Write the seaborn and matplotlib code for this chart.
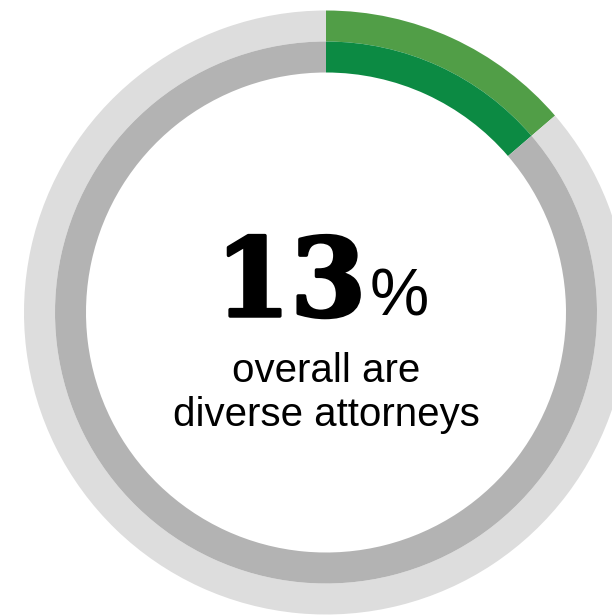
import matplotlib
matplotlib.use("Agg")
import matplotlib.pyplot as plt
import matplotlib.patheffects as pe
import seaborn as sns

# data
ring_names = ["outer", "inner"]
diverse_pct = [13.7, 13.7]
ring_colors = [("#519e47", "#dddddd"), ("#0c8a43", "#b3b3b3")]
headline_number = "13"
headline_unit = "%"
caption_lines = ["overall are", "diverse attorneys"]

sns.set_theme(style="white")
plt.rcParams["font.family"] = ["Liberation Sans", "DejaVu Sans"]

W, H = 612, 616
fig = plt.figure(figsize=(W / 100, H / 100), dpi=100)
ax = fig.add_axes([0, 0, 1, 1])

cx, cy = 326, H - 312.5
radii = [302, 271]
width = 31
for (name, pct, cols, r) in zip(ring_names, diverse_pct, ring_colors, radii):
    ax.pie([pct, 100 - pct], colors=list(cols), startangle=90, counterclock=False,
           radius=r, center=(cx, cy), frame=True,
           wedgeprops=dict(width=width, linewidth=0, antialiased=True))
ax.set_xlim(0, W)
ax.set_ylim(0, H)
ax.set_aspect("equal")
ax.axis("off")

ax.text(366, H - 316, headline_number, ha="right", va="baseline",
        fontsize=78, fontweight="bold", family=["DejaVu Serif"], color="black",
        path_effects=[pe.withStroke(linewidth=2.5, foreground="black")])
ax.text(370, H - 316, headline_unit, ha="left", va="baseline",
        fontsize=48, family=["Liberation Sans Narrow", "Liberation Sans", "DejaVu Sans"],
        color="black")
ax.text(cx, H - 382, caption_lines[0], ha="center", va="baseline",
        fontsize=29, color="black")
ax.text(cx, H - 426, caption_lines[1], ha="center", va="baseline",
        fontsize=29, color="black")

fig.savefig("out.png", dpi=100)
